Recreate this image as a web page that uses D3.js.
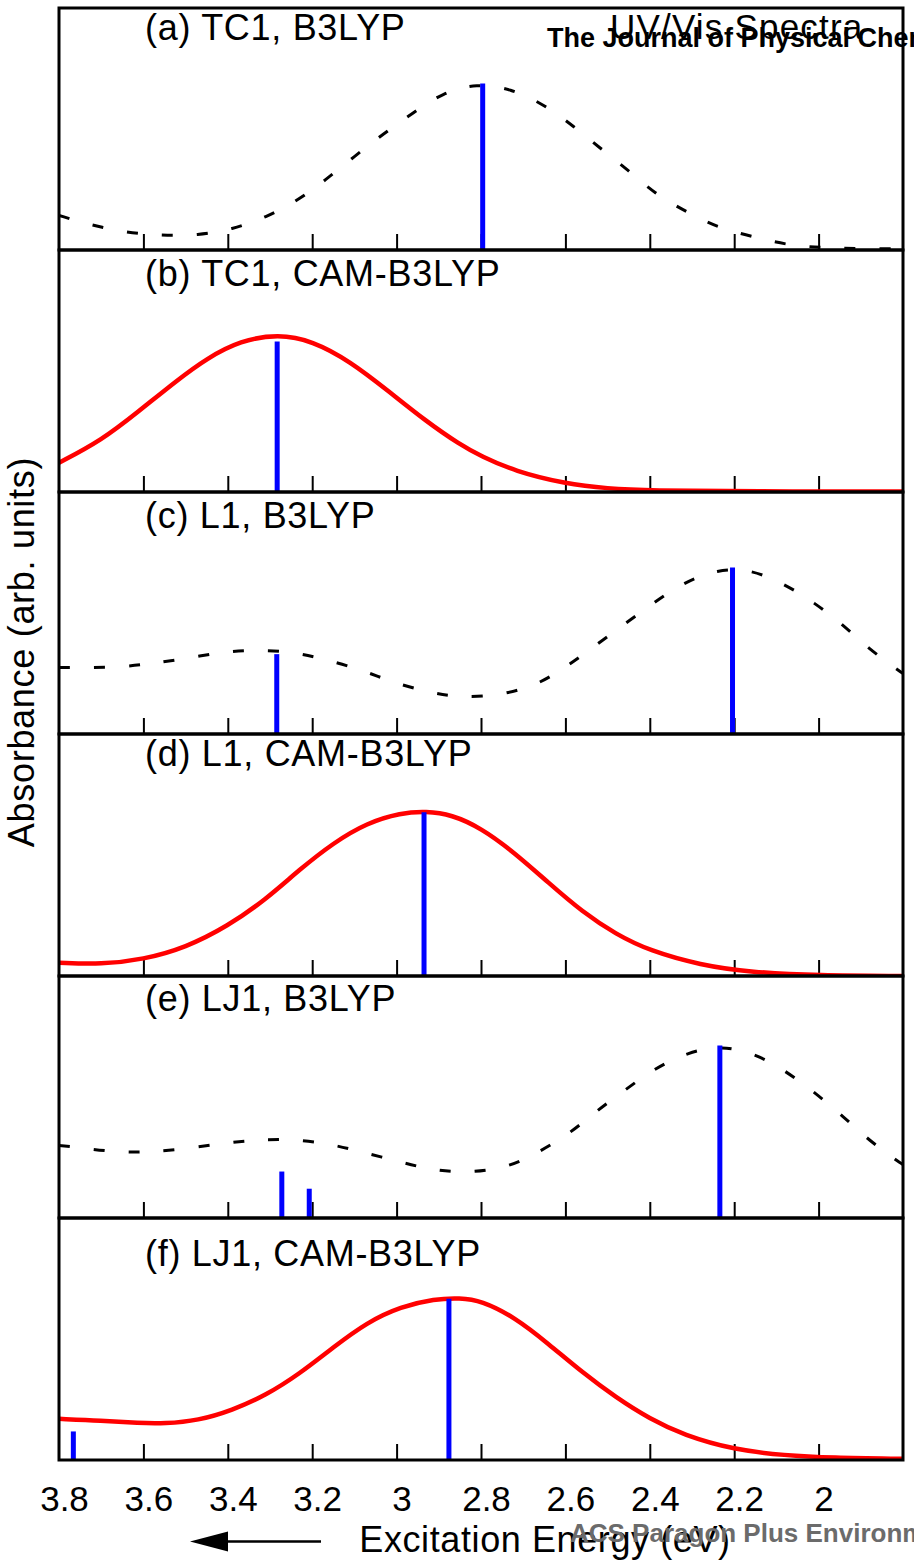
<!DOCTYPE html>
<html>
<head>
<meta charset="utf-8">
<script src="https://cdn.jsdelivr.net/npm/d3@7"></script>
<style>
  body { margin: 0; background: #fff; }
  svg { display: block; font-family: "Liberation Sans", Arial, Helvetica, sans-serif; }
</style>
</head>
<body>
<div id="chart"></div>
<script>
// panel titles, top to bottom
const panelLabels = ["(a) TC1, B3LYP", "(b) TC1, CAM-B3LYP", "(c) L1, B3LYP",
                     "(d) L1, CAM-B3LYP", "(e) LJ1, B3LYP", "(f) LJ1, CAM-B3LYP"];

// broadened spectra: [energy (eV), absorbance (arb.)]
const curveA = [[3.80,0.143],[3.73,0.105],[3.64,0.072],[3.56,0.060],[3.47,0.060],[3.39,0.085],[3.31,0.134],
  [3.23,0.209],[3.17,0.287],[3.10,0.387],[3.03,0.482],[2.96,0.568],[2.89,0.651],[2.81,0.688],[2.73,0.668],
  [2.65,0.601],[2.58,0.511],[2.52,0.424],[2.45,0.329],[2.39,0.234],[2.31,0.155],[2.24,0.093],[2.15,0.052],
  [2.07,0.019],[1.99,0.010],[1.92,0.006],[1.80,0.005]];
const curveB = [[3.80,0.121],[3.70,0.212],[3.61,0.335],[3.52,0.462],[3.45,0.552],[3.37,0.626],[3.28,0.652],
  [3.20,0.625],[3.11,0.540],[3.02,0.418],[2.93,0.292],[2.85,0.196],[2.80,0.148],[2.72,0.086],[2.60,0.034],
  [2.50,0.014],[2.40,0.006],[2.16,0.002],[1.80,0.002]];
const curveC = [[3.80,0.275],[3.76,0.275],[3.67,0.275],[3.59,0.288],[3.51,0.309],[3.42,0.337],[3.34,0.348],
  [3.25,0.341],[3.17,0.309],[3.08,0.264],[3.01,0.213],[2.92,0.171],[2.85,0.151],[2.76,0.158],[2.67,0.199],
  [2.60,0.275],[2.53,0.364],[2.46,0.454],[2.39,0.543],[2.32,0.626],[2.24,0.681],[2.16,0.681],[2.08,0.619],
  [2.01,0.543],[1.94,0.448],[1.88,0.350],[1.81,0.262],[1.80,0.250]];
const curveD = [[3.80,0.055],[3.70,0.048],[3.60,0.068],[3.50,0.117],[3.40,0.206],[3.31,0.316],[3.23,0.440],
  [3.15,0.550],[3.07,0.633],[2.99,0.674],[2.93,0.681],[2.87,0.667],[2.80,0.612],[2.72,0.509],[2.64,0.385],
  [2.56,0.265],[2.48,0.172],[2.40,0.104],[2.28,0.045],[2.16,0.015],[2.00,0.002],[1.80,0.000]];
const curveE = [[3.80,0.300],[3.76,0.293],[3.67,0.272],[3.59,0.272],[3.50,0.286],[3.41,0.309],[3.33,0.323],
  [3.25,0.327],[3.16,0.307],[3.08,0.272],[2.99,0.231],[2.91,0.196],[2.83,0.187],[2.74,0.207],[2.67,0.265],
  [2.59,0.348],[2.53,0.437],[2.46,0.527],[2.39,0.617],[2.31,0.685],[2.23,0.713],[2.15,0.679],[2.08,0.610],
  [2.01,0.520],[1.94,0.417],[1.88,0.320],[1.81,0.231],[1.80,0.221]];
const curveF = [[3.80,0.170],[3.70,0.163],[3.61,0.152],[3.55,0.150],[3.47,0.163],[3.39,0.205],[3.31,0.267],
  [3.23,0.356],[3.15,0.466],[3.07,0.569],[2.99,0.634],[2.91,0.666],[2.85,0.670],[2.80,0.659],[2.72,0.590],
  [2.64,0.480],[2.56,0.362],[2.48,0.258],[2.40,0.170],[2.32,0.103],[2.20,0.042],[2.08,0.019],[1.97,0.009],
  [1.80,0.005]];

// excitations: [energy (eV), oscillator strength (arb.)]
const sticksA = [[2.796,0.688]];
const sticksB = [[3.283,0.622]];
const sticksC = [[3.284,0.330],[2.204,0.688]];
const sticksD = [[2.935,0.677]];
const sticksE = [[3.272,0.192],[3.207,0.121],[2.234,0.713]];
const sticksF = [[3.766,0.118],[2.876,0.666]];

const methods = ["B3LYP", "CAM-B3LYP", "B3LYP", "CAM-B3LYP", "B3LYP", "CAM-B3LYP"];
const tickValues = [3.8, 3.6, 3.4, 3.2, 3.0, 2.8, 2.6, 2.4, 2.2, 2.0];

const curves = [curveA, curveB, curveC, curveD, curveE, curveF];
const sticks = [sticksA, sticksB, sticksC, sticksD, sticksE, sticksF];

const W = 914, H = 1566;
const plotLeft = 59, plotRight = 903, plotTop = 8, panelH = 242;
const labelDy = [32, 35.5, 35.5, 32, 34.5, 47.5];

const svg = d3.select("#chart").append("svg")
    .attr("width", W).attr("height", H);

const x = d3.scaleLinear().domain([3.8, 1.8]).range([plotLeft, plotRight]);
const y = d3.scaleLinear().domain([0, 1]).range([panelH, 0]);

const line = d3.line()
    .x(d => x(d[0]))
    .y(d => y(d[1]))
    .curve(d3.curveBasis);

svg.append("defs").append("clipPath").attr("id", "panelClip")
  .append("rect").attr("x", plotLeft).attr("y", 0).attr("width", plotRight - plotLeft).attr("height", panelH);

panelLabels.forEach((label, i) => {
    const g = svg.append("g").attr("transform", `translate(0,${plotTop + i * panelH})`);
    const dashed = methods[i] === "B3LYP";

    // inward ticks along the bottom
    g.append("g")
        .attr("transform", `translate(0,${panelH})`)
        .call(d3.axisBottom(x).tickValues(tickValues.slice(1)).tickSizeInner(-16).tickSizeOuter(0).tickFormat(""))
        .call(a => a.select(".domain").remove())
        .call(a => a.selectAll("line").attr("stroke", "#000").attr("stroke-width", 2));

    const plot = g.append("g").attr("clip-path", "url(#panelClip)");

    plot.append("path")
        .datum(curves[i])
        .attr("fill", "none")
        .attr("stroke", dashed ? "#000" : "#ff0000")
        .attr("stroke-width", dashed ? 3 : 4.5)
        .attr("stroke-dasharray", dashed ? "11,24" : null)
        .attr("d", line);

    plot.selectAll("line.stick")
        .data(sticks[i])
        .enter().append("line")
        .attr("class", "stick")
        .attr("x1", d => x(d[0])).attr("x2", d => x(d[0]))
        .attr("y1", y(0)).attr("y2", d => y(d[1]))
        .attr("stroke", "#0000ff")
        .attr("stroke-width", 5);

    g.append("rect")
        .attr("x", plotLeft).attr("y", 0)
        .attr("width", plotRight - plotLeft).attr("height", panelH)
        .attr("fill", "none").attr("stroke", "#000").attr("stroke-width", 3);

    g.append("text")
        .attr("x", 145).attr("y", labelDy[i])
        .attr("font-size", 36)
        .attr("letter-spacing", 0.7)
        .text(label);
});

// bottom axis labels
const plotBottom = plotTop + 6 * panelH;
svg.append("g")
    .attr("transform", `translate(5,${plotBottom})`)
    .call(d3.axisBottom(x).tickValues(tickValues).tickSize(0).tickPadding(0)
        .tickFormat(d => d3.format("")(+d.toFixed(1))))
    .call(a => a.select(".domain").remove())
    .call(a => a.selectAll("text")
        .attr("dy", null).attr("y", 50.5)
        .attr("font-size", 35).attr("fill", "#000")
        .attr("font-family", "Liberation Sans, Arial, sans-serif"));

// axis titles
svg.append("text")
    .attr("transform", "translate(34,652) rotate(-90)")
    .attr("text-anchor", "middle")
    .attr("font-size", 36)
    .attr("letter-spacing", 0.7)
    .text("Absorbance (arb. units)");

svg.append("text")
    .attr("x", 545).attr("y", 1552)
    .attr("text-anchor", "middle")
    .attr("font-size", 36)
    .attr("letter-spacing", 0.6)
    .text("Excitation Energy (eV)");

// arrow pointing to higher energy
svg.append("line")
    .attr("x1", 225).attr("x2", 321).attr("y1", 1541.5).attr("y2", 1541.5)
    .attr("stroke", "#000").attr("stroke-width", 2.5);
svg.append("path")
    .attr("d", "M190,1541.5 L228,1531.5 L228,1551.5 Z")
    .attr("fill", "#000");

// page overlays from the source document
svg.append("text")
    .attr("x", 610).attr("y", 39)
    .attr("font-size", 35)
    .attr("letter-spacing", 1.2)
    .text("UV/Vis Spectra");
svg.append("text")
    .attr("x", 547).attr("y", 47)
    .attr("font-size", 27).attr("font-weight", "bold")
    .text("The Journal of Physical Chemistry");
svg.append("text")
    .attr("x", 570).attr("y", 1542)
    .attr("font-size", 26).attr("font-weight", "bold")
    .attr("fill", "#6b6b6b")
    .text("ACS Paragon Plus Environment");
</script>
</body>
</html>
